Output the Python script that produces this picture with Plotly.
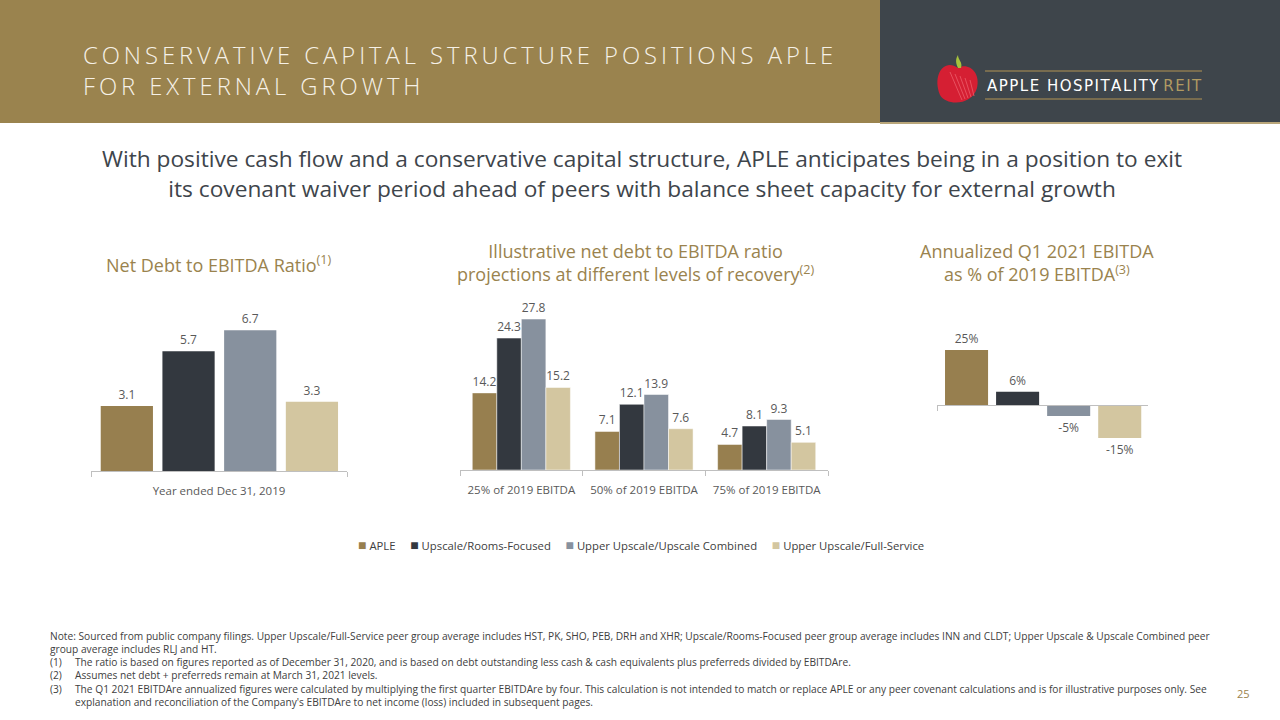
import plotly.graph_objects as go

# series shown in all three charts
series = ["APLE", "Upscale/Rooms-Focused", "Upper Upscale/Upscale Combined", "Upper Upscale/Full-Service"]
colors = ["#977F4F", "#33383F", "#87919E", "#D3C6A0"]

# chart 1 - net debt to EBITDA, year ended Dec 31, 2019
year_label = ["Year ended Dec 31, 2019"]
ratio_2019 = [3.1, 5.7, 6.7, 3.3]

# chart 2 - projections at different levels of recovery
recovery_levels = ["25% of 2019 EBITDA", "50% of 2019 EBITDA", "75% of 2019 EBITDA"]
aple_proj = [14.2, 7.1, 4.7]
rooms_proj = [24.3, 12.1, 8.1]
combined_proj = [27.8, 13.9, 9.3]
full_service_proj = [15.2, 7.6, 5.1]
projections = [aple_proj, rooms_proj, combined_proj, full_service_proj]

# chart 3 - annualized Q1 2021 EBITDA as % of 2019
q1_label = ["Q1 2021"]
q1_2021_pct = [25, 6, -5, -15]

GOLD = "#9A834E"
DARK = "#3E454B"
TEXT = "#595959"
FONT = "Open Sans"


def px_x(p):
    return p / 1280


def px_y(p):
    return 1 - p / 720


def spaced(s, sep="\u2009"):
    return sep.join(s)


fig = go.Figure()

for i, name in enumerate(series):
    # chart 1
    fig.add_trace(go.Bar(
        x=year_label, y=[ratio_2019[i]], name=name, marker_color=colors[i],
        marker_line_width=0, width=0.204, offset=-0.462 + i * 0.241,
        texttemplate="%{y:.1f}", textposition="outside",
        textfont=dict(size=12, color=TEXT), cliponaxis=False,
        xaxis="x", yaxis="y", showlegend=False,
    ))
    # chart 2
    fig.add_trace(go.Bar(
        x=recovery_levels, y=projections[i], name=name, marker_color=colors[i],
        marker_line=dict(color="white", width=0.5), width=0.2, offset=-0.4 + i * 0.2,
        texttemplate="%{y:.1f}", textposition="outside",
        textfont=dict(size=12, color=TEXT), cliponaxis=False,
        xaxis="x2", yaxis="y2", showlegend=False,
    ))
    # chart 3
    fig.add_trace(go.Bar(
        x=q1_label, y=[q1_2021_pct[i]], name=name, marker_color=colors[i],
        marker_line_width=0, width=0.204, offset=-0.462 + i * 0.242,
        text=[f"{q1_2021_pct[i]}%"], texttemplate="%{text}", textposition="outside",
        textfont=dict(size=12, color=TEXT), cliponaxis=False,
        xaxis="x3", yaxis="y3", showlegend=False,
    ))

axis_common = dict(
    showline=True, linecolor="#BFBFBF", linewidth=1, ticks="outside",
    tickson="boundaries", ticklen=5, tickcolor="#BFBFBF", ticklabelstandoff=9,
    tickfont=dict(size=11.5, color=TEXT), showgrid=False, fixedrange=True,
)
yaxis_common = dict(visible=False, showgrid=False, zeroline=False, fixedrange=True)

fig.update_layout(
    width=1280, height=720,
    margin=dict(l=0, r=0, t=0, b=0),
    paper_bgcolor="white", plot_bgcolor="white",
    font=dict(family=FONT, color=TEXT),
    barmode="group",
    xaxis=dict(domain=[px_x(91), px_x(347)], anchor="y", range=[-0.5, 0.5], **axis_common),
    yaxis=dict(domain=[px_y(471), px_y(300)], anchor="x", range=[0, 171 / 21], **yaxis_common),
    xaxis2=dict(domain=[px_x(460), px_x(828)], anchor="y2", range=[-0.5, 2.5], **axis_common),
    yaxis2=dict(domain=[px_y(470), px_y(300)], anchor="x2", range=[0, 170 / 5.43], **yaxis_common),
    xaxis3=dict(domain=[px_x(937), px_x(1148)], anchor="free", position=px_y(405),
                range=[-0.5, 0.5], showticklabels=False, **axis_common),
    yaxis3=dict(domain=[px_y(460), px_y(300)], anchor="x3", range=[-25, -25 + 160 / 2.2], **yaxis_common),
    showlegend=False,
)

# legend row, built from the series names and colours
legend_text = "\u00a0\u00a0\u00a0\u00a0\u00a0".join(
    f"<span style='color:{c};font-size:14px'>\u25a0</span>\u00a0{n}" for n, c in zip(series, colors)
)
fig.add_annotation(text=legend_text, xref="paper", yref="paper", x=px_x(641), y=px_y(544),
                   xanchor="center", yanchor="middle", showarrow=False,
                   font=dict(family=FONT, size=11.3, color="#404040"))

# header band
fig.add_shape(type="rect", xref="paper", yref="paper", x0=0, x1=px_x(880), y0=px_y(123), y1=1,
              fillcolor=GOLD, line_width=0, layer="below")
fig.add_shape(type="rect", xref="paper", yref="paper", x0=px_x(880), x1=1, y0=px_y(122), y1=1,
              fillcolor=DARK, line_width=0, layer="below")
fig.add_shape(type="line", xref="paper", yref="paper", x0=px_x(880), x1=1, y0=px_y(123), y1=px_y(123),
              line=dict(color="#B9A67A", width=2))

fig.add_annotation(text=spaced("CONSERVATIVE CAPITAL STRUCTURE POSITIONS APLE") + "<br>" + spaced("FOR EXTERNAL GROWTH"),
                   xref="paper", yref="paper", x=px_x(81), y=px_y(71), xanchor="left", yanchor="middle",
                   align="left", showarrow=False,
                   font=dict(family=FONT, size=23.8, color="#F6F1E7", weight=300))

# logo: apple, stem, wordmark and rules
fig.add_shape(type="path", xref="paper", yref="paper",
              path="M {a},{b} C {c},{d} {e},{f} {g},{h} C {i},{j} {k},{l} {m},{n} C {o},{p} {q},{r} {a},{b} Z".format(
                  a=px_x(958), b=px_y(68),
                  c=px_x(944), d=px_y(58), e=px_x(932), f=px_y(75), g=px_x(940), h=px_y(95),
                  i=px_x(946), j=px_y(106), k=px_x(972), l=px_y(106), m=px_x(977), n=px_y(88),
                  o=px_x(981), p=px_y(72), q=px_x(968), r=px_y(62)),
              fillcolor="#D51F33", line_width=0)
for k in range(5):
    fig.add_shape(type="line", xref="paper", yref="paper",
                  x0=px_x(950 + k * 5), y0=px_y(72 + k * 2), x1=px_x(962 + k * 3), y1=px_y(100 - k),
                  line=dict(color="#E8505F", width=1))
fig.add_shape(type="path", xref="paper", yref="paper",
              path=f"M {px_x(958)},{px_y(68)} C {px_x(955)},{px_y(62)} {px_x(956)},{px_y(58)} {px_x(958)},{px_y(55)} "
                   f"C {px_x(958)},{px_y(60)} {px_x(963)},{px_y(62)} {px_x(961)},{px_y(68)} Z",
              fillcolor="#A6C23C", line_width=0)
for yy in (71, 99):
    fig.add_shape(type="line", xref="paper", yref="paper", x0=px_x(985), x1=px_x(1202), y0=px_y(yy), y1=px_y(yy),
                  line=dict(color="#8C7A50", width=1.5))
fig.add_annotation(text=spaced("APPLE HOSPITALITY", "\u200a") + " <span style='color:#B09A62'>" + spaced("REIT", "\u200a") + "</span>",
                   xref="paper", yref="paper", x=px_x(985), y=px_y(86), xanchor="left", yanchor="middle",
                   showarrow=False, font=dict(family="DejaVu Sans", size=15, color="white"))

# subtitle
fig.add_annotation(text="With positive cash flow and a conservative capital structure, APLE anticipates being in a position to exit"
                        "<br>its covenant waiver period ahead of peers with balance sheet capacity for external growth",
                   xref="paper", yref="paper", x=px_x(642), y=px_y(173), xanchor="center", yanchor="middle",
                   showarrow=False, align="center", font=dict(family=FONT, size=22.7, color="#3E454B"))

# chart titles
title_font = dict(family=FONT, size=18, color=GOLD)
fig.add_annotation(text="Net Debt to EBITDA Ratio<sup>(1)</sup>", xref="paper", yref="paper",
                   x=px_x(218), y=px_y(264), xanchor="center", yanchor="middle", showarrow=False, font=title_font)
fig.add_annotation(text="Illustrative net debt to EBITDA ratio<br>projections at different levels of recovery<sup>(2)</sup>",
                   xref="paper", yref="paper", x=px_x(635), y=px_y(262), xanchor="center", yanchor="middle",
                   showarrow=False, align="center", font=title_font)
fig.add_annotation(text="Annualized Q1 2021 EBITDA<br>as % of 2019 EBITDA<sup>(3)</sup>",
                   xref="paper", yref="paper", x=px_x(1037), y=px_y(262), xanchor="center", yanchor="middle",
                   showarrow=False, align="center", font=title_font)

# footnotes
note_font = dict(family=FONT, size=10.2, color="#404040")
notes = [
    (48, 636, "Note: Sourced from public company filings. Upper Upscale/Full-Service peer group average includes HST, PK, SHO, PEB, DRH and XHR; "
              "Upscale/Rooms-Focused peer group average includes INN and CLDT; Upper Upscale & Upscale Combined peer"),
    (48, 649, "group average includes RLJ and HT."),
    (48, 662, "(1)"),
    (73, 662, "The ratio is based on figures reported as of December 31, 2020, and is based on debt outstanding less cash & cash equivalents plus preferreds divided by EBITDAre."),
    (48, 675, "(2)"),
    (73, 675, "Assumes net debt + preferreds remain at March 31, 2021 levels."),
    (48, 689, "(3)"),
    (73, 689, "The Q1 2021 EBITDAre annualized figures were calculated by multiplying the first quarter EBITDAre by four. This calculation is not intended to match "
              "or replace APLE or any peer covenant calculations and is for illustrative purposes only. See"),
    (73, 702, "explanation and reconciliation of the Company's EBITDAre to net income (loss) included in subsequent pages."),
]
for nx, ny, txt in notes:
    fig.add_annotation(text=txt, xref="paper", yref="paper", x=px_x(nx), y=px_y(ny), xanchor="left", yanchor="middle",
                       showarrow=False, align="left", font=note_font)

fig.add_annotation(text="25", xref="paper", yref="paper", x=px_x(1243), y=px_y(693), xanchor="center", yanchor="middle",
                   showarrow=False, font=dict(family=FONT, size=11, color=GOLD))

# remove the page's default body margin so the figure sits at the window's corner
fig.write_html("out.html", config={"displayModeBar": False},
               post_script="document.body.style.margin='0';")
